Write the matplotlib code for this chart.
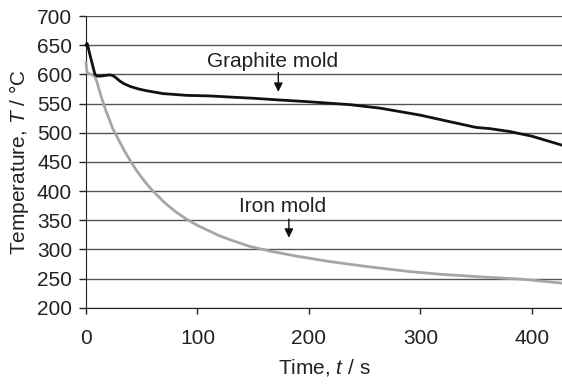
import matplotlib
matplotlib.use("Agg")
import matplotlib.pyplot as plt

plt.rcParams['font.family'] = ['Liberation Sans', 'DejaVu Sans']
plt.rcParams['mathtext.fontset'] = 'custom'
plt.rcParams['mathtext.rm'] = 'Liberation Sans'
plt.rcParams['mathtext.it'] = 'Liberation Sans:italic'

# Graphite mold cooling curve
graphite_t = [0, 1, 4, 8, 10, 13, 17, 21, 24, 27, 30, 34, 40, 47, 54, 69, 90, 111,
              130, 150, 174, 200, 237, 264, 282, 300, 326, 350, 362, 380, 400, 428]
graphite_T = [650, 653, 630, 600, 597, 597, 598, 599, 598, 594, 589, 584, 579, 575,
              572, 567, 564, 563, 561, 559, 556, 553, 548, 542, 536, 530, 519, 509,
              507, 502, 494, 478]

# Iron mold cooling curve
iron_t = [0, 1, 5, 8, 10, 12, 14, 16, 18, 20, 22, 24, 27, 30, 35, 40, 45, 50, 55,
          60, 70, 80, 90, 100, 110, 120, 130, 147, 165, 190, 219, 250, 290, 320,
          353, 390, 428]
iron_T = [620, 602, 600, 596, 586, 572, 560, 548, 537, 527, 517, 507, 496, 485,
          467, 451, 436, 423, 411, 400, 381, 365, 352, 341, 332, 323, 316, 305,
          297, 288, 279, 271, 262, 257, 253, 249, 242]

xticks = [0, 100, 200, 300, 400]
yticks = [200, 250, 300, 350, 400, 450, 500, 550, 600, 650, 700]

FS = 15

fig = plt.figure(figsize=(5.62, 3.85), dpi=100)
ax = fig.add_axes([86/562, 1 - 307.7/385, 1 - 86/562, (307.7 - 16)/385])

ax.plot(iron_t, iron_T, color='#a6a6a6', lw=2.0, zorder=3, clip_on=False)
ax.plot(graphite_t, graphite_T, color='#111111', lw=2.0, zorder=4, clip_on=False)

ax.set_xlim(0, 427)
ax.set_ylim(200, 700)
ax.set_xticks(xticks)
ax.set_yticks(yticks)
ax.yaxis.grid(True, color='#555555', lw=1.0)
ax.set_axisbelow(True)
for s in ['top', 'right']:
    ax.spines[s].set_visible(False)
ax.spines['left'].set_color('#222222')
ax.spines['bottom'].set_color('#222222')
ax.tick_params(axis='y', direction='out', length=5, width=1, labelsize=FS,
               colors='#222222', pad=5)
ax.tick_params(axis='x', direction='out', length=4, width=1, labelsize=FS,
               colors='#222222', pad=11)

ax.set_xlabel('Time, $t$ / s', fontsize=FS, color='#222222', labelpad=7)
ax.set_ylabel('Temperature, $T$ / °C', fontsize=FS, color='#222222', labelpad=4)

ax.text(167.5, 622, 'Graphite mold', ha='center', va='center', fontsize=FS,
        color='#222222')
ax.annotate('', xy=(172.5, 570), xytext=(172.5, 603),
            arrowprops=dict(arrowstyle='-|>', color='#111111', lw=1.0,
                            mutation_scale=13, shrinkA=0, shrinkB=0))
ax.text(176, 373, 'Iron mold', ha='center', va='center', fontsize=FS,
        color='#222222')
ax.annotate('', xy=(182, 320), xytext=(182, 352),
            arrowprops=dict(arrowstyle='-|>', color='#111111', lw=1.0,
                            mutation_scale=13, shrinkA=0, shrinkB=0))

fig.savefig('out.png', dpi=100)
